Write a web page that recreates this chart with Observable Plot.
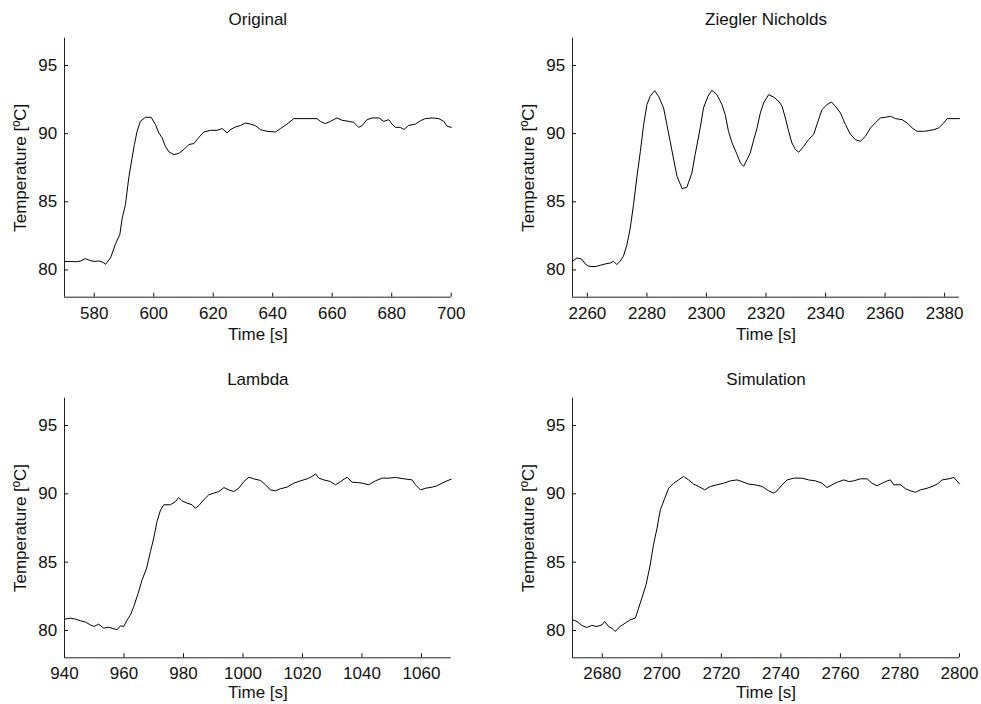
<!DOCTYPE html>
<html><head><meta charset="utf-8">
<script src="https://cdn.jsdelivr.net/npm/d3@7"></script>
<script src="https://cdn.jsdelivr.net/npm/@observablehq/plot@0.6"></script>
<style>
body{margin:0;background:#fff;}
#wrap{position:relative;width:981px;height:704px;overflow:hidden;background:#fff;}
#wrap svg{position:absolute;overflow:visible;}
</style></head><body><div id="wrap"></div>
<script>
// ---- shared axis values ----
const yDomain = [78, 97];
const yTicks = [80, 85, 90, 95];
const yLabel = "Temperature [ºC]";
const xLabel = "Time [s]";
const titles = ["Original", "Ziegler Nicholds", "Lambda", "Simulation"];

// ---- Original ----
const origDomain = [570, 700];
const origTicks = [580, 600, 620, 640, 660, 680, 700];
const origT = [570,572,574,575.5,577,578.5,580,581.5,583,583.8,585.5,587.1,588.6,589.4,590.5,591.6,592.7,593.5,594.4,595.5,597.2,599.1,600.6,601.7,602.8,603.9,605.1,606.8,608.4,610.1,611.8,613.5,615.2,616.8,619.1,621.3,623,624.7,625.8,627.5,629.2,630.8,632.5,634.2,635.9,638.1,640.9,642.6,644.8,647.1,650.5,654.9,656,657.7,659.4,661.6,663.3,665.6,667.2,668.9,670.1,671.7,673.4,675.7,677.3,679,680.1,681.3,682.9,684.1,685.7,688,689.7,691.3,693.6,695.8,697.5,698.6,700];
const origV = [80.61,80.62,80.6,80.66,80.83,80.7,80.62,80.66,80.55,80.41,80.9,81.88,82.6,83.8,84.8,86.76,88.2,89.2,90.17,90.9,91.2,91.2,90.66,90.05,89.7,89.07,88.66,88.46,88.54,88.83,89.2,89.27,89.73,90.12,90.24,90.24,90.37,90.05,90.3,90.49,90.6,90.78,90.7,90.58,90.29,90.17,90.12,90.37,90.7,91.1,91.1,91.1,90.9,90.73,90.9,91.15,90.98,90.9,90.83,90.46,90.6,91.02,91.15,91.15,90.9,91.02,90.7,90.46,90.46,90.3,90.6,90.7,90.95,91.1,91.15,91.1,90.9,90.54,90.46];

// ---- Ziegler Nicholds ----
const znDomain = [2255, 2385];
const znTicks = [2260, 2280, 2300, 2320, 2340, 2360, 2380];
const znT = [2255,2256.5,2258.1,2259.3,2260.4,2262.6,2264.3,2266,2267.7,2268.8,2269.9,2271,2272.1,2273.3,2274.4,2275.5,2276.6,2277.8,2278.9,2280,2281.1,2282.6,2283.9,2285.6,2286.7,2287.8,2289,2290.1,2291.8,2293.4,2295.1,2296.2,2297.9,2299,2300.5,2301.8,2303.5,2305.2,2306.3,2307.4,2308.6,2310.3,2311.4,2312.5,2313.6,2314.7,2315.9,2317,2318.1,2319.2,2320.9,2322.6,2324.3,2325.4,2326.5,2327.6,2328.7,2329.9,2331,2332.7,2334.3,2336,2337.1,2338.8,2340.5,2342,2343.3,2345,2346.7,2348.4,2350,2351.7,2353.4,2355.1,2356.7,2358.4,2360.1,2361.8,2363.5,2365.7,2367.4,2369.1,2370.7,2373,2374.7,2376.4,2378,2379.7,2380.9,2385];
const znV = [80.64,80.88,80.8,80.44,80.27,80.24,80.34,80.44,80.51,80.64,80.39,80.64,81.0,81.86,83.08,84.79,86.75,88.7,90.66,92.13,92.74,93.15,92.74,91.88,90.66,89.44,88.09,86.87,85.97,86.06,87.11,88.46,90.42,91.88,92.74,93.18,92.86,92.13,91.39,90.17,89.32,88.46,87.85,87.6,88.09,88.58,89.56,90.42,91.52,92.25,92.86,92.67,92.37,92.0,91.15,90.17,89.32,88.83,88.63,89.07,89.56,89.93,90.66,91.76,92.13,92.32,92.0,91.52,90.66,89.93,89.56,89.44,89.8,90.42,90.78,91.15,91.2,91.27,91.1,91.03,90.78,90.42,90.17,90.17,90.22,90.29,90.42,90.78,91.1,91.1];

// ---- Lambda ----
const lamDomain = [940, 1070];
const lamTicks = [940, 960, 980, 1000, 1020, 1040, 1060];
const lamT = [940,942,943.7,945.4,947.1,948.7,949.9,951.5,953.2,954.9,956.6,957.7,958.8,959.9,961.1,962.2,963.3,964.6,966.1,967.6,968.9,970,971.1,972.3,973.4,975.6,977.3,978.4,979.5,981.2,982.9,984,985.2,986.8,988.5,990.2,991.9,993.6,995.2,996.9,998.6,1000.3,1002,1003.6,1005.9,1007.6,1009.2,1010.9,1012.6,1014.8,1017.1,1019.3,1021.6,1023.2,1024.4,1025.5,1027.2,1029.4,1031.1,1032.8,1035,1036.7,1038.4,1040.1,1042.3,1044.5,1046.8,1049,1051.3,1054.1,1056.9,1058,1059.7,1061.4,1063.6,1065.3,1066.9,1068.6,1070];
const lamV = [80.83,80.9,80.83,80.71,80.61,80.41,80.29,80.46,80.17,80.24,80.12,80.05,80.34,80.29,80.78,81.15,81.76,82.61,83.71,84.56,85.78,86.76,87.98,88.83,89.2,89.2,89.44,89.73,89.49,89.32,89.2,88.95,89.15,89.56,89.93,90.05,90.17,90.46,90.29,90.17,90.41,90.9,91.22,91.1,90.98,90.66,90.29,90.22,90.37,90.49,90.78,90.95,91.1,91.27,91.46,91.15,91.02,90.9,90.66,90.9,91.22,90.85,90.83,90.78,90.66,90.95,91.15,91.15,91.2,91.1,91.02,90.66,90.29,90.41,90.49,90.59,90.78,90.95,91.07];

// ---- Simulation ----
const simDomain = [2670, 2800];
const simTicks = [2680, 2700, 2720, 2740, 2760, 2780, 2800];
const simT = [2670,2671.5,2673.1,2674.8,2676.5,2678.2,2679.9,2680.8,2682.1,2683.2,2684.3,2686,2687.7,2689.4,2691.1,2692.2,2693.3,2694.7,2696.1,2697.2,2698.4,2699.5,2701,2702.3,2704,2705.6,2707.3,2709,2710.7,2712.4,2714.4,2716.3,2718.5,2720.8,2723,2725.3,2726.9,2729.2,2731.4,2733.7,2735.9,2737.6,2738.7,2740.4,2742.1,2744.3,2747.1,2749.3,2751.6,2753.8,2755.5,2757.2,2758.9,2761.1,2762.8,2764.5,2766.7,2769,2770.6,2772.3,2774,2775.7,2776.8,2777.9,2780.2,2781.9,2783.5,2785.2,2786.9,2789.1,2790.8,2792.5,2794.2,2796.4,2798.1,2800];
const simV = [80.78,80.66,80.37,80.22,80.37,80.29,80.41,80.66,80.29,80.17,79.93,80.29,80.54,80.78,80.9,81.63,82.37,83.34,84.8,86.27,87.49,88.83,89.68,90.41,90.78,91.02,91.27,91.02,90.71,90.54,90.29,90.54,90.66,90.78,90.95,91.02,90.9,90.71,90.66,90.54,90.22,90.05,90.22,90.66,91.02,91.15,91.15,91.02,90.95,90.78,90.46,90.66,90.85,91.02,90.9,90.95,91.1,91.1,90.78,90.59,90.78,90.95,91.02,90.66,90.66,90.37,90.22,90.12,90.29,90.41,90.54,90.71,91.02,91.1,91.2,90.73];

const FONT = '"Liberation Sans", Arial, Helvetica, sans-serif';

const panels = [
  {title: titles[0], t: origT, v: origV, dom: origDomain, ticks: origTicks, left: 0,   top: 0,   w: 490, h: 350, ml: 64, mr: 39.3, mt: 37.7, mb: 53.3, xlo: 43},
  {title: titles[1], t: znT,   v: znV,   dom: znDomain,   ticks: znTicks,   left: 490, top: 0,   w: 491, h: 350, ml: 82, mr: 22,   mt: 37.7, mb: 53.3, xlo: 43},
  {title: titles[2], t: lamT,  v: lamV,  dom: lamDomain,  ticks: lamTicks,  left: 0,   top: 350, w: 490, h: 354, ml: 64, mr: 39.3, mt: 47.7, mb: 46.7, xlo: 40.5},
  {title: titles[3], t: simT,  v: simV,  dom: simDomain,  ticks: simTicks,  left: 490, top: 350, w: 491, h: 354, ml: 82, mr: 22,   mt: 47.7, mb: 46.7, xlo: 40.5}
];

const wrap = document.getElementById("wrap");
for (const p of panels) {
  const data = p.t.map((t, i) => ({t, v: p.v[i]}));
  const chart = Plot.plot({
    width: p.w, height: p.h,
    marginTop: p.mt, marginBottom: p.mb, marginLeft: p.ml, marginRight: p.mr,
    style: {fontFamily: FONT, fontSize: "17px", color: "#111", background: "transparent", overflow: "visible"},
    x: {domain: p.dom, label: null},
    y: {domain: yDomain, label: null},
    marks: [
      Plot.ruleY([yDomain[0]], {stroke: "#222", strokeWidth: 1}),
      Plot.ruleX([p.dom[0]], {stroke: "#222", strokeWidth: 1}),
      Plot.axisX({ticks: p.ticks, tickSize: -4, tickPadding: 13.5, tickFormat: d => String(d),
                  label: xLabel, labelAnchor: "center", labelOffset: p.xlo, labelArrow: "none"}),
      Plot.axisY({ticks: yTicks, tickSize: -4, tickPadding: 11.3, tickFormat: d => String(d),
                  label: yLabel, labelAnchor: "center", labelOffset: 50.5, labelArrow: "none"}),
      Plot.line(data, {x: "t", y: "v", stroke: "#000", strokeWidth: 1}),
      Plot.text([p.title], {frameAnchor: "top", lineAnchor: "bottom", dy: -13.3, fontSize: 17})
    ]
  });
  chart.style.left = p.left + "px";
  chart.style.top = p.top + "px";
  wrap.appendChild(chart);
}
</script>
</body></html>
